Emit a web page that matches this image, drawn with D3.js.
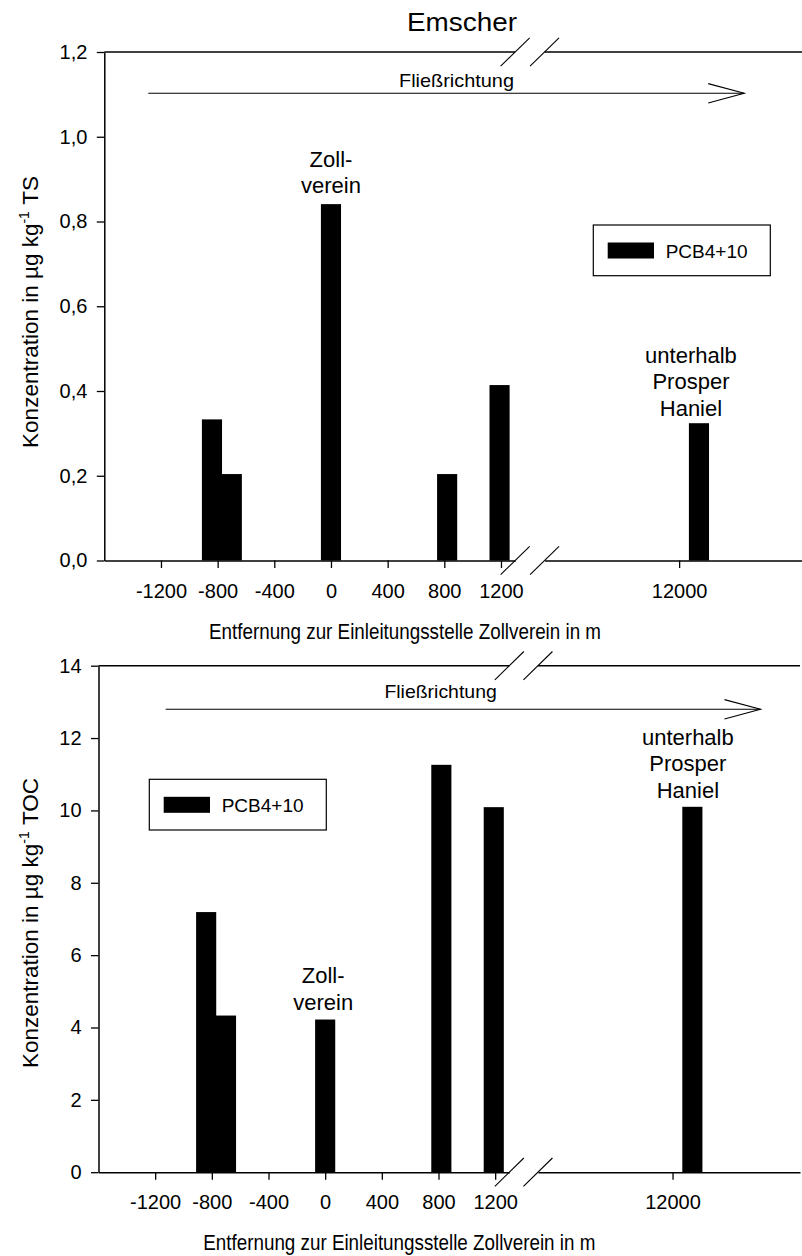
<!DOCTYPE html>
<html>
<head>
<meta charset="utf-8">
<script src="https://cdn.jsdelivr.net/npm/d3@7"></script>
<style>
  html, body { margin: 0; padding: 0; background: #fff; }
  svg { display: block; }
  text { font-family: Arial, "Liberation Sans", sans-serif; fill: #000; }
</style>
</head>
<body>
<svg id="chart" width="802" height="1256"></svg>
<script>
// ---------------- data ----------------
const title = "Emscher";
const seriesName = "PCB4+10";
const positions = [-840, -700, 0, 820, 1190, 12140];          // distance in m
const valuesTS  = [0.333, 0.204, 0.841, 0.204, 0.414, 0.324];  // µg/kg TS
const valuesTOC = [7.19, 4.33, 4.22, 11.26, 10.09, 10.10];     // µg/kg TOC
const xTicksNear = [-1200, -800, -400, 0, 400, 800, 1200];
const xTicksFar  = [12000];
const yTicksTS  = [0, 0.2, 0.4, 0.6, 0.8, 1.0, 1.2];
const yTicksTOC = [0, 2, 4, 6, 8, 10, 12, 14];
const annotZoll   = ["Zoll-", "verein"];
const annotHaniel = ["unterhalb", "Prosper", "Haniel"];
const flowLabel = "Fließrichtung";
const xTitle = "Entfernung zur Einleitungsstelle Zollverein in m";
const yTitleMain = "Konzentration in µg kg";
const yTitleSup = "-1";
const yUnitTS = "TS", yUnitTOC = "TOC";

// ---------------- layout ----------------
const pxPerM = 0.14167;
const barWidthM = 142;
const nearDomain = [-1600, 1300];
const farDomain = [11050, 12900];
const plainInt = d => String(d);

const panels = [
  {
    values: valuesTS, yTicks: yTicksTS, yMax: 1.2, unit: yUnitTS,
    fmt: d => d.toFixed(1).replace(".", ","),
    left: 104.3, bottom: 560.5, top: 52, gap: 29.4,
    yTitle: {x: 38.3, y: 312},
    xTitle: {x: 209, y: 639.3},
    flow: {x1: 148.3, x2: 744.2, y: 93.3, lx: 456.5, ly: 87.3, len: 115},
    legend: {x: 593.3, y: 225},
    zoll: {dx: 0, gap: 11}, haniel: {dx: -8, gap: 7.5}
  },
  {
    values: valuesTOC, yTicks: yTicksTOC, yMax: 14, unit: yUnitTOC,
    fmt: plainInt,
    left: 98.5, bottom: 1172.2, top: 665.7, gap: 28.6,
    yTitle: {x: 38.3, y: 923},
    xTitle: {x: 203.3, y: 1249.5},
    flow: {x1: 165.7, x2: 760.5, y: 709.3, lx: 440.6, ly: 698, len: 112.4},
    legend: {x: 149.3, y: 779.3},
    zoll: {dx: -2, gap: 10}, haniel: {dx: -4.5, gap: 9}
  }
];

const svg = d3.select("#chart");

svg.append("text")
  .attr("x", 462).attr("y", 31)
  .attr("text-anchor", "middle")
  .attr("font-size", 25)
  .attr("textLength", 110).attr("lengthAdjust", "spacingAndGlyphs")
  .text(title);

panels.forEach(p => {
  const g = svg.append("g");
  const nearEnd = p.left + (nearDomain[1] - nearDomain[0]) * pxPerM;
  const farStart = nearEnd + p.gap;
  const farEnd = farStart + (farDomain[1] - farDomain[0]) * pxPerM;
  const xNear = d3.scaleLinear().domain(nearDomain).range([p.left, nearEnd]);
  const xFar = d3.scaleLinear().domain(farDomain).range([farStart, farEnd]);
  const x = v => (v <= nearDomain[1] ? xNear(v) : xFar(v));
  const y = d3.scaleLinear().domain([0, p.yMax]).range([p.bottom, p.top]);

  // bars
  g.selectAll("rect.bar")
    .data(positions.map((pos, i) => ({pos, v: p.values[i]})))
    .join("rect")
    .attr("class", "bar")
    .attr("x", d => x(d.pos - barWidthM / 2))
    .attr("width", d => x(d.pos + barWidthM / 2) - x(d.pos - barWidthM / 2))
    .attr("y", d => y(d.v))
    .attr("height", d => y(0) - y(d.v))
    .attr("fill", "#000");

  // x axes (two segments)
  const styleAxis = sel => {
    sel.selectAll("path.domain").attr("stroke", "#000").attr("stroke-width", 1.5);
    sel.selectAll(".tick line").attr("stroke", "#000").attr("stroke-width", 1.3);
    sel.selectAll(".tick text").attr("font-size", 20).attr("fill", "#000")
       .style("font-family", "Arial, 'Liberation Sans', sans-serif");
  };
  g.append("g").attr("transform", `translate(0,${p.bottom})`)
    .call(d3.axisBottom(xNear).tickValues(xTicksNear).tickSize(7.5).tickPadding(15.5).tickSizeOuter(0).tickFormat(plainInt))
    .call(styleAxis);
  g.append("g").attr("transform", `translate(0,${p.bottom})`)
    .call(d3.axisBottom(xFar).tickValues(xTicksFar).tickSize(7.5).tickPadding(15.5).tickSizeOuter(0).tickFormat(plainInt))
    .call(styleAxis);

  // y axis
  g.append("g").attr("transform", `translate(${p.left},0)`)
    .call(d3.axisLeft(y).tickValues(p.yTicks).tickSize(7.5).tickPadding(9.4).tickSizeOuter(0).tickFormat(p.fmt))
    .call(styleAxis);

  // top frame lines
  [[p.left, nearEnd], [farStart, farEnd]].forEach(([a, b]) => {
    g.append("line").attr("x1", a).attr("x2", b).attr("y1", p.top).attr("y2", p.top)
      .attr("stroke", "#000").attr("stroke-width", 1.5);
  });

  // break marks
  [p.bottom, p.top].forEach(yy => {
    [nearEnd, farStart].forEach(xx => {
      g.append("line")
        .attr("x1", xx - 14.5).attr("y1", yy + 14.2)
        .attr("x2", xx + 14.5).attr("y2", yy - 14.2)
        .attr("stroke", "#000").attr("stroke-width", 1.1);
    });
  });

  // flow arrow
  const f = p.flow;
  g.append("line").attr("x1", f.x1).attr("x2", f.x2).attr("y1", f.y).attr("y2", f.y)
    .attr("stroke", "#000").attr("stroke-width", 1.1);
  g.append("path")
    .attr("d", `M${f.x2 - 36},${f.y - 9.7}L${f.x2},${f.y}L${f.x2 - 36},${f.y + 9.7}`)
    .attr("fill", "none").attr("stroke", "#000").attr("stroke-width", 1.1);
  g.append("text").attr("x", f.lx).attr("y", f.ly).attr("text-anchor", "middle")
    .attr("font-size", 19).attr("textLength", f.len).attr("lengthAdjust", "spacingAndGlyphs")
    .text(flowLabel);

  // annotations
  const annot = (lines, pos, cfg) => {
    const idx = positions.indexOf(pos);
    const lastBase = y(p.values[idx]) - cfg.gap;
    const t = g.append("text").attr("text-anchor", "middle").attr("font-size", 22);
    lines.forEach((ln, i) => {
      t.append("tspan")
        .attr("x", x(pos) + cfg.dx)
        .attr("y", lastBase - (lines.length - 1 - i) * 26.6)
        .text(ln);
    });
  };
  annot(annotZoll, 0, p.zoll);
  annot(annotHaniel, 12140, p.haniel);

  // legend
  const L = p.legend;
  g.append("rect").attr("x", L.x).attr("y", L.y).attr("width", 177).attr("height", 50.7)
    .attr("fill", "#fff").attr("stroke", "#000").attr("stroke-width", 1.2);
  g.append("rect").attr("x", L.x + 14.4).attr("y", L.y + 17.5).attr("width", 46.3).attr("height", 16)
    .attr("fill", "#000");
  g.append("text").attr("x", L.x + 72.4).attr("y", L.y + 33).attr("font-size", 19).text(seriesName);

  // axis titles
  g.append("text").attr("x", p.xTitle.x).attr("y", p.xTitle.y)
    .attr("font-size", 22.5).attr("textLength", 392).attr("lengthAdjust", "spacingAndGlyphs")
    .text(xTitle);

  const yt = g.append("text")
    .attr("transform", `translate(${p.yTitle.x},${p.yTitle.y}) rotate(-90)`)
    .attr("text-anchor", "middle").attr("font-size", 22.5);
  yt.append("tspan").text(yTitleMain);
  yt.append("tspan").attr("font-size", 14).attr("dy", -9).text(yTitleSup);
  yt.append("tspan").attr("dy", 9).text("\u00a0" + p.unit);
});
</script>
</body>
</html>
